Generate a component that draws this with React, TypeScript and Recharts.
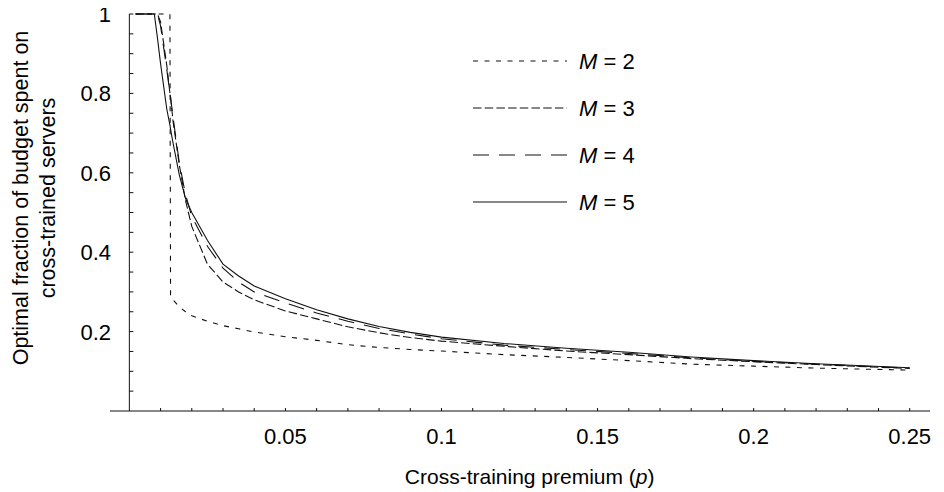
import React from "react";
import { LineChart, Line, XAxis, YAxis, ReferenceLine, Legend, Label } from "recharts";

// Cross-training premium p (shared x values)
const pValues = [0.002, 0.004, 0.006, 0.008, 0.009, 0.01, 0.012, 0.013, 0.0132, 0.014, 0.016, 0.018, 0.02, 0.025, 0.03, 0.035, 0.04, 0.05, 0.06, 0.07, 0.08, 0.09, 0.1, 0.12, 0.14, 0.16, 0.18, 0.2, 0.22, 0.25];

const m2Values = [1, 1, 1, 1, 1, 1, 1, 1, 0.29, 0.28, 0.262, 0.25, 0.24, 0.226, 0.215, 0.207, 0.199, 0.187, 0.178, 0.167, 0.16, 0.155, 0.151, 0.142, 0.135, 0.127, 0.118, 0.113, 0.108, 0.103];
const m3Values = [1, 1, 1, 1, 1, 0.98, 0.87, 0.8, 0.79, 0.73, 0.62, 0.53, 0.465, 0.37, 0.325, 0.3, 0.28, 0.252, 0.232, 0.212, 0.197, 0.185, 0.176, 0.163, 0.151, 0.142, 0.132, 0.124, 0.117, 0.107];
const m4Values = [1, 1, 1, 1, 1, 0.97, 0.86, 0.8, 0.79, 0.74, 0.625, 0.545, 0.49, 0.415, 0.36, 0.325, 0.3, 0.272, 0.247, 0.226, 0.208, 0.194, 0.182, 0.166, 0.155, 0.145, 0.134, 0.125, 0.118, 0.108];
const m5Values = [1, 1, 1, 1, 0.94, 0.875, 0.76, 0.72, 0.71, 0.675, 0.595, 0.535, 0.5, 0.43, 0.37, 0.34, 0.315, 0.283, 0.255, 0.232, 0.213, 0.198, 0.186, 0.17, 0.158, 0.148, 0.136, 0.127, 0.119, 0.109];

const xTicks = [0.01, 0.02, 0.03, 0.04, 0.05, 0.06, 0.07, 0.08, 0.09, 0.1, 0.11, 0.12, 0.13, 0.14, 0.15, 0.16, 0.17, 0.18, 0.19, 0.2, 0.21, 0.22, 0.23, 0.24, 0.25];
const xTickLabels: Record<string, string> = { "0.05": "0.05", "0.1": "0.1", "0.15": "0.15", "0.2": "0.2", "0.25": "0.25" };
const yTicks = [0.05, 0.1, 0.15, 0.2, 0.25, 0.3, 0.35, 0.4, 0.45, 0.5, 0.55, 0.6, 0.65, 0.7, 0.75, 0.8, 0.85, 0.9, 0.95, 1];
const yTickLabels: Record<string, string> = { "0.2": "0.2", "0.4": "0.4", "0.6": "0.6", "0.8": "0.8", "1": "1" };

const seriesNames = ["M2", "M3", "M4", "M5"];
const seriesLabels = ["2", "3", "4", "5"];
const seriesDash = ["5 6.5", "8.5 3.2", "16 10", undefined];

const data = pValues.map((p, i) => ({
  p,
  M2: m2Values[i],
  M3: m3Values[i],
  M4: m4Values[i],
  M5: m5Values[i],
}));

const FONT = "'Liberation Sans', Arial, Helvetica, sans-serif";
const X_MIN = -0.0062;
const X_MAX = 0.2565;
const W = 944;
const H = 492;
const MARGIN = { top: 14, right: 14, left: 8, bottom: 0 };
const Y_AXIS_W = 102;
const X_AXIS_H = 81;
const PLOT_W = W - MARGIN.left - MARGIN.right - Y_AXIS_W;
const AXIS_OFFSET = ((0 - X_MIN) / (X_MAX - X_MIN)) * PLOT_W;
const INK = "#111";

const XTick = (props: any) => {
  const { x, y, payload } = props;
  const label = xTickLabels[String(payload.value)];
  return (
    <g>
      <line x1={x} x2={x} y1={y} y2={y - 3} stroke={INK} strokeWidth={1} />
      {label && (
        <text x={x} y={y + 33} textAnchor="middle" fontSize={22} fontFamily={FONT} fill="#000">
          {label}
        </text>
      )}
    </g>
  );
};

const YTick = (props: any) => {
  const { x, y, payload } = props;
  const label = yTickLabels[String(payload.value)];
  const ax = x + AXIS_OFFSET;
  return (
    <g>
      <line x1={ax} x2={ax + 4} y1={y} y2={y} stroke={INK} strokeWidth={1} />
      {label && (
        <text x={x + 1} y={y + 8} textAnchor="end" fontSize={22} fontFamily={FONT} fill="#000">
          {label}
        </text>
      )}
    </g>
  );
};

const LegendContent = () => (
  <svg width={200} height={185} style={{ display: "block" }}>
    {seriesNames.map((n, i) => {
      const cy = 21 + i * 47;
      return (
        <g key={n}>
          <line x1={8} x2={102} y1={cy} y2={cy} stroke={INK} strokeWidth={1.1} strokeDasharray={seriesDash[i]} />
          <text x={114} y={cy + 8} fontSize={22} fontFamily={FONT} fill="#000">
            <tspan fontStyle="italic">M</tspan>
            <tspan> = {seriesLabels[i]}</tspan>
          </text>
        </g>
      );
    })}
  </svg>
);

export default function App() {
  return (
    <div style={{ margin: "-8px 0 0 -8px", width: W, height: H }}>
      <LineChart width={W} height={H} data={data} margin={MARGIN}>
        <XAxis
          dataKey="p"
          type="number"
          domain={[X_MIN, X_MAX]}
          ticks={xTicks}
          allowDataOverflow
          height={X_AXIS_H}
          axisLine={{ stroke: INK, strokeWidth: 1 }}
          tickLine={false}
          tickSize={0}
          tickMargin={0}
          tick={<XTick />}
          interval={0}
        >
          <Label
            content={(p: any) => {
              const vb = p.viewBox || {};
              const cx = vb.x + AXIS_OFFSET + (PLOT_W - AXIS_OFFSET) / 2;
              return (
                <text x={cx} y={vb.y + 73} textAnchor="middle" fontSize={21} fontFamily={FONT} fill="#000">
                  Cross-training premium (<tspan fontStyle="italic">p</tspan>)
                </text>
              );
            }}
          />
        </XAxis>
        <YAxis
          type="number"
          domain={[0, 1]}
          ticks={yTicks}
          width={Y_AXIS_W}
          axisLine={false}
          tickLine={false}
          tickSize={0}
          tickMargin={0}
          tick={<YTick />}
          interval={0}
        >
          <Label
            content={() => (
              <g fontSize={21.5} fontFamily={FONT} fill="#000">
                <text x={21} y={198} textAnchor="middle" dominantBaseline="central" transform="rotate(-90, 21, 198)">
                  Optimal fraction of budget spent on
                </text>
                <text x={48} y={198} textAnchor="middle" dominantBaseline="central" transform="rotate(-90, 48, 198)">
                  cross-trained servers
                </text>
              </g>
            )}
          />
        </YAxis>
        <ReferenceLine x={0} stroke={INK} strokeWidth={1} />
        <Legend
          layout="vertical"
          align="center"
          verticalAlign="middle"
          content={<LegendContent />}
          wrapperStyle={{ position: "absolute", left: 465, top: 40, width: 200, height: 185 }}
        />
        {seriesNames.map((n, i) => (
          <Line
            key={n}
            dataKey={n}
            type="linear"
            stroke={INK}
            strokeWidth={1.1}
            strokeDasharray={seriesDash[i]}
            dot={false}
            activeDot={false}
            isAnimationActive={false}
          />
        ))}
      </LineChart>
    </div>
  );
}
